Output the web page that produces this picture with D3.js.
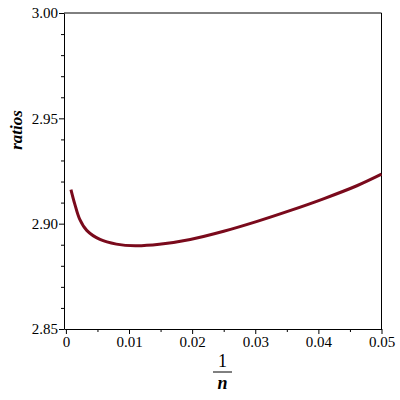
<!DOCTYPE html>
<html lang="en">
<head>
<meta charset="utf-8">
<style type="text/css">
    body { margin: 0; background: #fff; }
    .axis text { font-family: "Liberation Serif", "DejaVu Serif", serif; font-size: 15px; fill: #000; }
    .axis path, .axis line { stroke: #000; }
    .curve { fill: none; stroke: #7a0a1c; stroke-width: 3px; }
</style>
</head>
<body>
<svg width="400" height="400"></svg>

<script src="https://d3js.org/d3.v7.min.js" type="text/javascript"></script>
<script type="text/javascript">
    // values
    var invN   = [0.0008, 0.0014, 0.0022, 0.0033, 0.0054, 0.008, 0.011, 0.0148, 0.0197, 0.025, 0.0303, 0.0356, 0.0408, 0.0461, 0.05];
    var ratios = [2.9162, 2.9094, 2.9020, 2.8968, 2.8925, 2.8903, 2.8895, 2.8902, 2.8925, 2.8964, 2.9011, 2.9063, 2.9118, 2.9180, 2.9235];
    var xTicks = [0, 0.01, 0.02, 0.03, 0.04, 0.05];
    var xMinor = [0.005, 0.015, 0.025, 0.035, 0.045];
    var yTicks = [2.85, 2.90, 2.95, 3.00];
    var yMinor = [2.86, 2.87, 2.88, 2.89, 2.91, 2.92, 2.93, 2.94, 2.96, 2.97, 2.98, 2.99];

    var svg = d3.select("svg");
    var mLeft = 64, mRight = 381.5, mTop = 13, mBottom = 329;

    var x = d3.scaleLinear().domain([-0.0003, 0.05]).range([mLeft, mRight]);
    var y = d3.scaleLinear().domain([2.85, 3.00]).range([mBottom, mTop]);

    // frame (top and right)
    svg.append("path")
        .attr("d", "M" + mLeft + "," + mTop + "H" + mRight + "V" + mBottom)
        .attr("fill", "none")
        .attr("stroke", "#000")
        .attr("stroke-width", 1);

    // minor ticks
    svg.append("g").attr("class", "axis")
        .attr("transform", "translate(0," + mBottom + ")")
        .call(d3.axisBottom(x).tickValues(xMinor).tickSize(3).tickFormat(""))
        .select(".domain").remove();
    svg.append("g").attr("class", "axis")
        .attr("transform", "translate(" + mLeft + ",0)")
        .call(d3.axisLeft(y).tickValues(yMinor).tickSize(3).tickFormat(""))
        .select(".domain").remove();

    // major axes
    var xAxis = svg.append("g").attr("class", "axis")
        .attr("transform", "translate(0," + mBottom + ")")
        .call(d3.axisBottom(x).tickValues(xTicks).tickSize(5).tickSizeOuter(0)
            .tickFormat(function (d) { return d === 0 ? "0" : d3.format(".2f")(d); }));
    xAxis.selectAll("text").attr("y", 7);

    var yAxis = svg.append("g").attr("class", "axis")
        .attr("transform", "translate(" + mLeft + ",0)")
        .call(d3.axisLeft(y).tickValues(yTicks).tickSize(5).tickSizeOuter(0).tickFormat(d3.format(".2f")));
    yAxis.selectAll("text").attr("x", -6);

    // curve
    var line = d3.line()
        .x(function (d, i) { return x(invN[i]); })
        .y(function (d, i) { return y(ratios[i]); })
        .curve(d3.curveCatmullRom.alpha(0.5));

    svg.append("path")
        .datum(invN)
        .attr("class", "curve")
        .attr("d", line);

    // y label
    svg.append("text")
        .attr("transform", "translate(22,130) rotate(-90)")
        .attr("text-anchor", "middle")
        .style("font-family", "Liberation Serif, serif")
        .style("font-size", "17px")
        .style("font-style", "italic")
        .style("font-weight", "bold")
        .text("ratios");

    // x label: 1/n fraction
    var fx = 222.5;
    svg.append("text")
        .attr("x", fx).attr("y", 367)
        .attr("text-anchor", "middle")
        .style("font-family", "Liberation Serif, serif")
        .style("font-size", "18px")
        .text("1");
    svg.append("line")
        .attr("x1", fx - 9.5).attr("x2", fx + 9.5)
        .attr("y1", 372).attr("y2", 372)
        .attr("stroke", "#000").attr("stroke-width", 1);
    svg.append("text")
        .attr("x", fx).attr("y", 389)
        .attr("text-anchor", "middle")
        .style("font-family", "Liberation Serif, serif")
        .style("font-size", "18px")
        .style("font-style", "italic")
        .style("font-weight", "bold")
        .text("n");
</script>
</body>
</html>
